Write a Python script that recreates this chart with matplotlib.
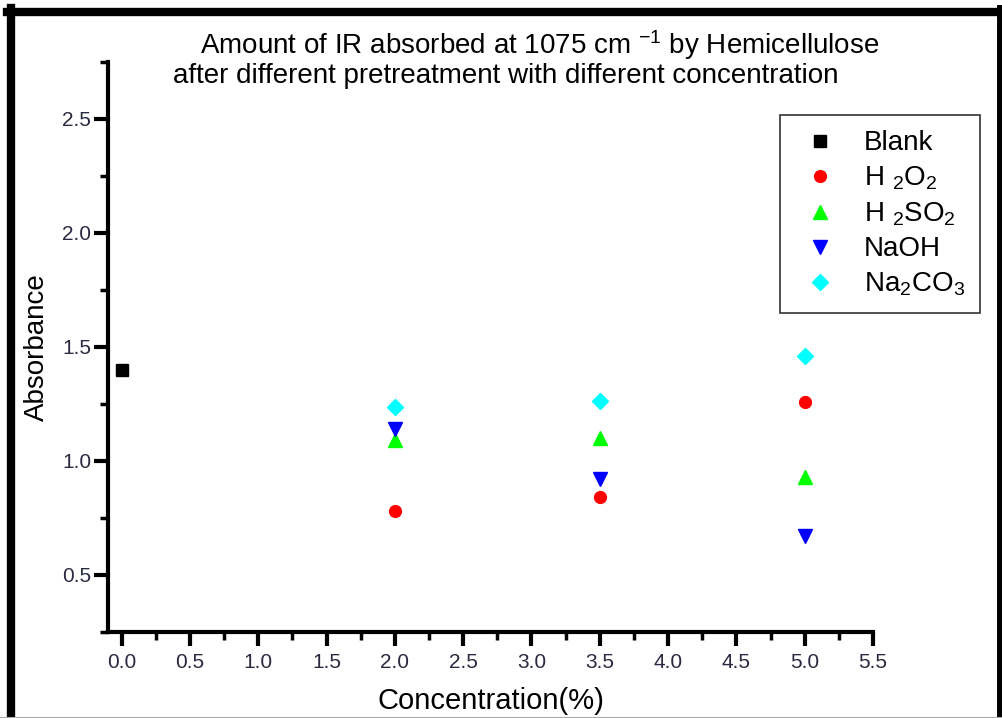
import matplotlib
matplotlib.use('Agg')
import matplotlib.pyplot as plt
from matplotlib.lines import Line2D
from matplotlib.ticker import MultipleLocator

plt.rcParams['font.family'] = ['Liberation Sans', 'DejaVu Sans']
plt.rcParams['mathtext.default'] = 'regular'

conc = [2.0, 3.5, 5.0]
blank_x = [0.0]
blank_y = [1.40]
h2o2 = [0.78, 0.84, 1.26]
h2so2 = [1.09, 1.10, 0.93]
naoh = [1.14, 0.92, 0.67]
na2co3 = [1.235, 1.265, 1.46]
xticks = [0.0, 0.5, 1.0, 1.5, 2.0, 2.5, 3.0, 3.5, 4.0, 4.5, 5.0, 5.5]

W, H = 1003, 718
fig = plt.figure(figsize=(W / 100, H / 100), dpi=100)
ax = fig.add_axes([108 / W, 1 - 632 / H, (873 - 108) / W, (632 - 62) / H])

ax.plot(blank_x, blank_y, 's', color='black', ms=8.5, ls='none', label='Blank')
ax.plot(conc, h2o2, 'o', color='red', ms=8.5, ls='none', label=r'H $_2$O$_2$')
ax.plot(conc, h2so2, '^', color='#00ff00', ms=9.5, ls='none', label=r'H $_2$SO$_2$')
ax.plot(conc, naoh, 'v', color='blue', ms=9.5, ls='none', label='NaOH')
ax.plot(conc, na2co3, 'D', color='cyan', ms=8, ls='none', label=r'Na$_2$CO$_3$')

ax.set_xlim(-0.1, 5.5)
ax.set_ylim(0.25, 2.75)
ax.set_xticks(xticks)
ax.set_xticklabels(['%.1f' % v for v in xticks])
ax.xaxis.set_minor_locator(MultipleLocator(0.25))
ax.yaxis.set_major_locator(MultipleLocator(0.5))
ax.yaxis.set_minor_locator(MultipleLocator(0.25))

for side in ['top', 'right']:
    ax.spines[side].set_visible(False)
for side in ['left', 'bottom']:
    ax.spines[side].set_linewidth(3)
ax.tick_params(which='major', direction='out', length=10, width=3,
               labelsize=15, labelcolor='#2a2a40')
ax.tick_params(axis='y', which='major', pad=2)
ax.tick_params(axis='x', which='major', pad=5)
ax.tick_params(which='minor', direction='out', length=6, width=2.5)

ax.set_xlabel('Concentration(%)', fontsize=21, labelpad=11)
ax.set_ylabel('Absorbance', fontsize=20, labelpad=9)

fig.text(540 / W, 1 - 45 / H, r'Amount of IR absorbed at 1075 cm $^{-1}$ by Hemicellulose',
         ha='center', va='center', fontsize=20)
fig.text(506 / W, 1 - 76 / H, 'after different pretreatment with different concentration',
         ha='center', va='center', fontsize=20)

leg = ax.legend(loc='upper right', bbox_to_anchor=(980 / W, 1 - 115 / H),
                bbox_transform=fig.transFigure, fontsize=20, frameon=True,
                fancybox=False, edgecolor='black', handlelength=1.8,
                handletextpad=0.65, labelspacing=0.3, borderpad=0.55,
                borderaxespad=0)
leg.get_frame().set_linewidth(1.2)

# outer frame around the picture
fig.add_artist(Line2D([11 / W, 11 / W], [0, 1 - 8 / H], color='black', lw=6,
                      transform=fig.transFigure))
fig.add_artist(Line2D([7 / W, 1], [1 - 12 / H, 1 - 12 / H], color='black', lw=6,
                      transform=fig.transFigure))
fig.add_artist(Line2D([1000 / W, 1000 / W], [0, 1 - 8 / H], color='black', lw=5,
                      transform=fig.transFigure))
fig.add_artist(Line2D([0, 1], [0.5 / H, 0.5 / H], color='#aaaaaa', lw=1.5,
                      transform=fig.transFigure))

fig.savefig('out.png', dpi=100)
